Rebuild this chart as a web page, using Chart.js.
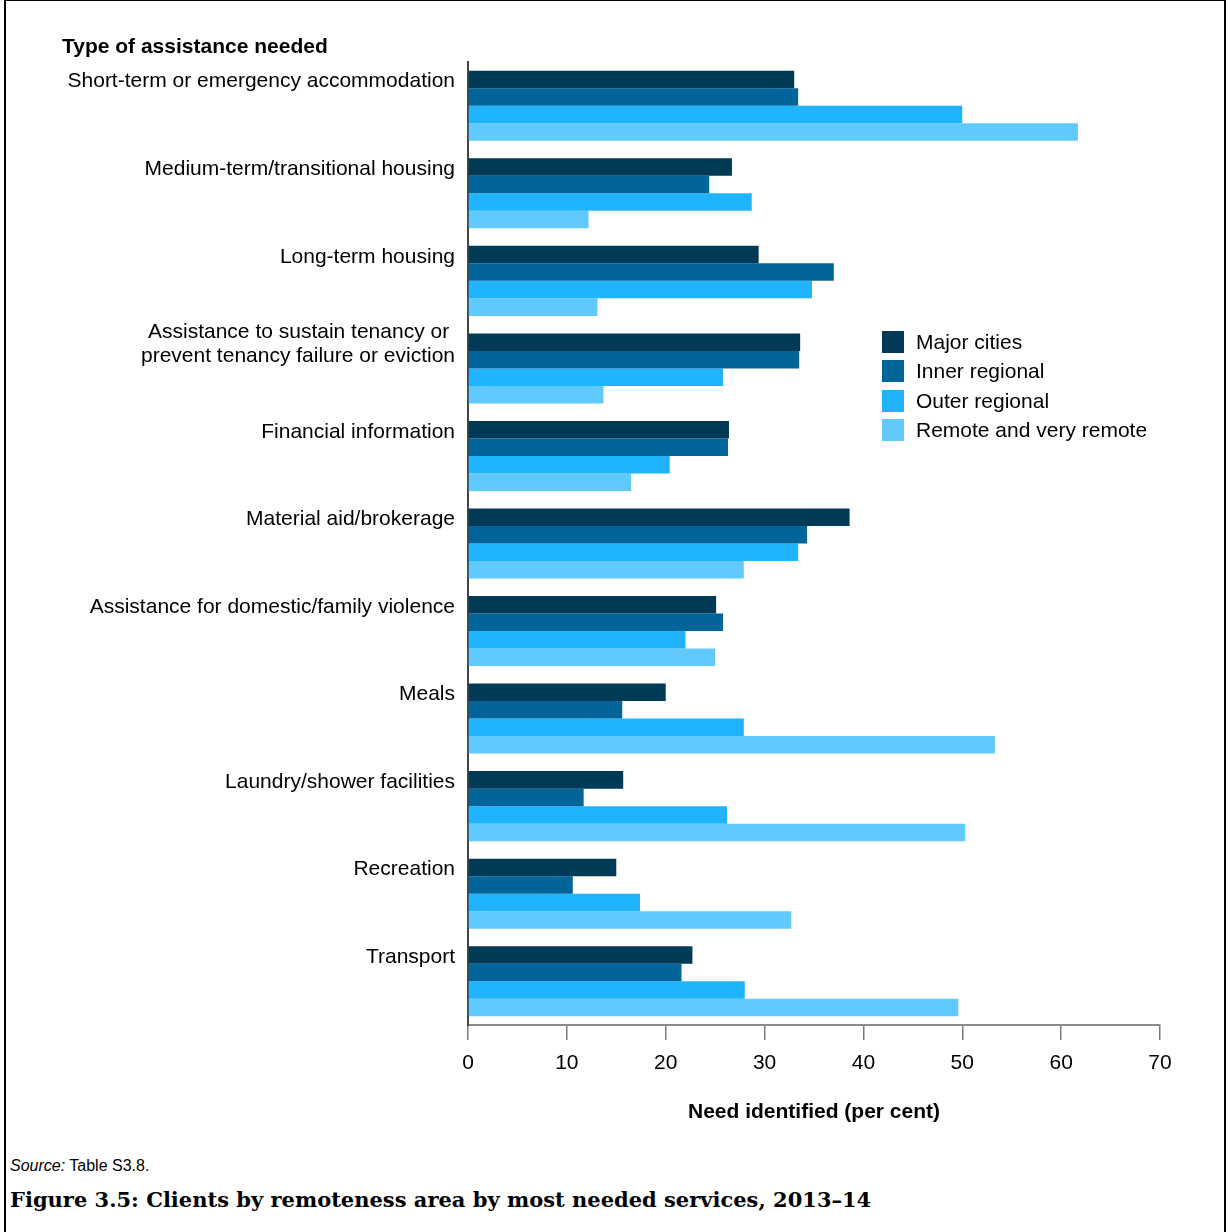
<!DOCTYPE html>
<html lang="en">
<head>
<meta charset="UTF-8">
<title>Figure 3.5</title>
<script src="https://cdn.jsdelivr.net/npm/chart.js@4.4.1/dist/chart.umd.min.js"></script>
<style>
    body { margin: 0; background: #fff; font-family: "Liberation Sans", Arial, sans-serif; }
    .page { position: relative; width: 1228px; height: 1232px; overflow: hidden; }
    .frame { position: absolute; left: 4px; top: 0; width: 1218px; height: 1240px;
             border-left: 2px solid #000; border-right: 2px solid #000; border-top: 1px solid #000; }
    #chart { position: absolute; left: 0; top: 0; }
    .ytitle { position: absolute; left: 62px; top: 34px; font-weight: bold; font-size: 21px; line-height: 24px; color: #000; }
    .legend { position: absolute; left: 882px; top: 327px; }
    .legend div { height: 29.5px; display: flex; align-items: center; font-size: 21px; color: #000; }
    .legend span { display: inline-block; width: 22px; height: 22px; margin-right: 12px; }
    .source { position: absolute; left: 10px; top: 1156px; font-size: 16px; line-height: 20px; }
    .caption { position: absolute; left: 10px; top: 1186px; font-family: "DejaVu Serif", "Liberation Serif", serif;
               font-weight: bold; font-size: 21px; line-height: 28px; }
</style>
</head>
<body>
<div class="page">
    <div class="frame"></div>
    <canvas id="chart" width="1228" height="1140"></canvas>
    <div class="ytitle">Type of assistance needed</div>
    <div class="legend" id="legend"></div>
    <div class="source"><i>Source:</i> Table S3.8.</div>
    <div class="caption">Figure 3.5: Clients by remoteness area by most needed services, 2013–14</div>
</div>
<script>
    // categories (multi-line where the original wraps)
    const categories = [
        ["Short-term or emergency accommodation"],
        ["Medium-term/transitional housing"],
        ["Long-term housing"],
        ["Assistance to sustain tenancy or ", "prevent tenancy failure or eviction"],
        ["Financial information"],
        ["Material aid/brokerage"],
        ["Assistance for domestic/family violence"],
        ["Meals"],
        ["Laundry/shower facilities"],
        ["Recreation"],
        ["Transport"]
    ];

    const seriesNames = ["Major cities", "Inner regional", "Outer regional", "Remote and very remote"];
    const seriesColors = ["#013a57", "#02659a", "#20b4ff", "#60caff"];

    // per cent
    const majorCities   = [33.0, 26.7, 29.4, 33.6, 26.4, 38.6, 25.1, 20.0, 15.7, 15.0, 22.7];
    const innerRegional = [33.4, 24.4, 37.0, 33.5, 26.3, 34.3, 25.8, 15.6, 11.7, 10.6, 21.6];
    const outerRegional = [50.0, 28.7, 34.8, 25.8, 20.4, 33.4, 22.0, 27.9, 26.2, 17.4, 28.0];
    const remote        = [61.7, 12.2, 13.1, 13.7, 16.5, 27.9, 25.0, 53.3, 50.3, 32.7, 49.6];

    const xTicks = [0, 10, 20, 30, 40, 50, 60, 70];

    const seriesValues = [majorCities, innerRegional, outerRegional, remote];

    // legend
    const legendBox = document.getElementById("legend");
    seriesNames.forEach(function (name, i) {
        const row = document.createElement("div");
        const sw = document.createElement("span");
        sw.style.background = seriesColors[i];
        row.appendChild(sw);
        row.appendChild(document.createTextNode(name));
        legendBox.appendChild(row);
    });

    const sans = "'Liberation Sans', Arial, sans-serif";

    new Chart(document.getElementById("chart"), {
        type: "bar",
        data: {
            labels: categories,
            datasets: seriesValues.map(function (vals, i) {
                return {
                    label: seriesNames[i],
                    data: vals,
                    backgroundColor: seriesColors[i],
                    borderWidth: 0
                };
            })
        },
        options: {
            indexAxis: "y",
            responsive: false,
            animation: false,
            devicePixelRatio: 1,
            categoryPercentage: 0.8,
            barPercentage: 1.0,
            layout: { padding: { top: 62, right: 68, left: 0, bottom: 0 } },
            plugins: {
                legend: { display: false },
                tooltip: { enabled: false }
            },
            scales: {
                x: {
                    min: xTicks[0],
                    max: xTicks[xTicks.length - 1],
                    afterBuildTicks: function (axis) {
                        axis.ticks = xTicks.map(function (v) { return { value: v }; });
                    },
                    afterFit: function (axis) { axis.height = 115; },
                    grid: {
                        display: true,
                        drawOnChartArea: false,
                        drawTicks: true,
                        tickLength: 15,
                        color: "#7a7a7a",
                        lineWidth: 1.5
                    },
                    border: { display: true, color: "#8a8a8a", width: 2 },
                    ticks: {
                        padding: 11,
                        color: "#000",
                        font: { family: sans, size: 21 }
                    },
                    title: {
                        display: true,
                        text: "Need identified (per cent)",
                        color: "#000",
                        font: { family: sans, size: 21, weight: "bold", lineHeight: 1.2 },
                        padding: { top: 0, bottom: 15 }
                    }
                },
                y: {
                    afterFit: function (axis) { axis.width = 468; },
                    grid: { display: false },
                    border: { display: true, color: "#444", width: 2 },
                    ticks: {
                        padding: 5,
                        color: "#000",
                        autoSkip: false,
                        font: { family: sans, size: 21, lineHeight: 1.15 },
                        callback: function (value, index) {
                            // labels sit at the top of their group, so pad with blank lines below
                            const lines = categories[index].slice();
                            lines.push("", "");
                            return lines;
                        }
                    }
                }
            }
        }
    });
</script>
</body>
</html>
